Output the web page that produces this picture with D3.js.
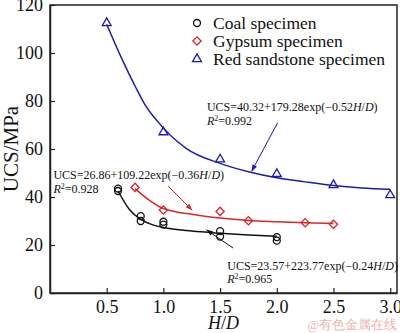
<!DOCTYPE html>
<html>
<head>
<meta charset="utf-8">
<script src="https://cdn.jsdelivr.net/npm/d3@7"></script>
<style>
  body { margin: 0; background: #fff; }
  svg text { font-family: "Liberation Serif", "Times New Roman", serif; }
</style>
</head>
<body>
<div class="chart"></div>
<script>
// measured points
const coalHD = [0.6, 0.6, 0.8, 0.8, 1.0, 1.0, 1.5, 1.5, 2.0, 2.0];
const coalUCS = [43.5, 42.5, 32, 30, 29.7, 28.5, 25.8, 23.5, 23.3, 21.8];
const gypHD = [0.75, 1.0, 1.5, 1.75, 2.25, 2.5];
const gypUCS = [44, 34.6, 34, 30.1, 29.3, 28.6];
const sandHD = [0.5, 1.0, 1.5, 2.0, 2.5, 3.0];
const sandUCS = [112.5, 67, 55.7, 49.6, 45, 40.8];

// fitted curves
const coalFitHD = [0.6, 0.7, 0.8, 0.9, 1.0, 1.25, 1.5, 1.75, 2.0];
const coalFitUCS = [42.5, 34.8, 30.7, 28.5, 27.3, 25.8, 24.9, 24.2, 23.6];
const gypFitHD = [0.75, 0.88, 1.0, 1.25, 1.5, 1.75, 2.0, 2.25, 2.5];
const gypFitUCS = [43.5, 38.5, 35.2, 32.8, 31.2, 30.2, 29.7, 29.3, 29.0];
const sandFitHD = [0.5, 0.62, 0.76, 0.84, 0.95, 1.2, 1.5, 1.75, 2.0, 2.25, 2.5, 2.75, 3.0];
const sandFitUCS = [112, 99, 85.3, 78.3, 71.4, 60.3, 54, 50.5, 48, 46.3, 44.8, 43.8, 43.2];

const xTicks = [0.5, 1.0, 1.5, 2.0, 2.5, 3.0];
const yTicks = [0, 20, 40, 60, 80, 100, 120];
const legendNames = ["Coal specimen", "Gypsum specimen", "Red sandstone specimen"];

const black = "#111", red = "#d8262a", blue = "#1c1caa";

const width = 400, height = 333;
const svg = d3.select(".chart").append("svg")
	.attr("width", width)
	.attr("height", height);

const x = d3.scaleLinear().domain([0, 3.06]).range([50, 397]);
const y = d3.scaleLinear().domain([0, 120]).range([293, 5]);

// frame
svg.append("rect")
	.attr("x", x(0)).attr("y", y(120))
	.attr("width", x(3.06) - x(0)).attr("height", y(0) - y(120))
	.attr("fill", "none").attr("stroke", "#222").attr("stroke-width", 1.5);

const xAxis = svg.append("g")
	.attr("transform", "translate(0," + y(0) + ")")
	.call(d3.axisBottom(x).tickValues(xTicks).tickFormat(d3.format(".1f"))
		.tickSize(-5).tickSizeOuter(0).tickPadding(7));
const yAxis = svg.append("g")
	.attr("transform", "translate(" + x(0) + ",0)")
	.call(d3.axisLeft(y).tickValues(yTicks).tickSize(-5).tickSizeOuter(0).tickPadding(7));

[xAxis, yAxis].forEach(function(g) {
	g.select(".domain").attr("stroke", "#222").attr("stroke-width", 1.5);
	g.selectAll(".tick line").attr("stroke", "#222").attr("stroke-width", 1.2);
	g.selectAll(".tick text")
		.attr("font-family", "Liberation Serif")
		.attr("font-size", 18)
		.attr("fill", "#111");
});

// axis titles
svg.append("text")
	.attr("transform", "translate(18," + y(60) + ") rotate(-90)")
	.attr("text-anchor", "middle")
	.attr("font-size", 21)
	.attr("fill", "#111")
	.text("UCS/MPa");

const xt = svg.append("text")
	.attr("x", x(1.53)).attr("y", 329)
	.attr("text-anchor", "middle")
	.attr("font-size", 18)
	.attr("fill", "#111");
xt.append("tspan").attr("font-style", "italic").text("H");
xt.append("tspan").text("/");
xt.append("tspan").attr("font-style", "italic").text("D");

// fitted curves
const line = d3.line()
	.x(d => x(d[0]))
	.y(d => y(d[1]))
	.curve(d3.curveMonotoneX);

const curves = [
	{hd: sandFitHD, ucs: sandFitUCS, color: blue},
	{hd: gypFitHD, ucs: gypFitUCS, color: red},
	{hd: coalFitHD, ucs: coalFitUCS, color: black}
];
curves.forEach(function(c) {
	svg.append("path")
		.datum(d3.zip(c.hd, c.ucs))
		.attr("d", line)
		.attr("fill", "none")
		.attr("stroke", c.color)
		.attr("stroke-width", 1.5);
});

// markers
const symCircle = d3.symbol().type(d3.symbolCircle).size(38);
const symDiamond = d3.symbol().type(d3.symbolSquare).size(34);
const symTriangle = d3.symbol().type(d3.symbolTriangle).size(34);

function drawPoints(hd, ucs, sym, color, rot) {
	svg.append("g").selectAll("path")
		.data(d3.zip(hd, ucs))
		.enter()
		.append("path")
		.attr("d", sym)
		.attr("transform", d => "translate(" + x(d[0]) + "," + y(d[1]) + ") rotate(" + rot + ")")
		.attr("fill", "none")
		.attr("stroke", color)
		.attr("stroke-width", 1.3);
}
drawPoints(coalHD, coalUCS, symCircle, black, 0);
drawPoints(gypHD, gypUCS, symDiamond, red, 45);
drawPoints(sandHD, sandUCS, symTriangle, blue, 0);

// legend
const legendSyms = [
	{sym: symCircle, color: black, rot: 0},
	{sym: symDiamond, color: red, rot: 45},
	{sym: symTriangle, color: blue, rot: 0}
];
const legend = svg.append("g").selectAll("g")
	.data(legendNames)
	.enter()
	.append("g")
	.attr("transform", (d, i) => "translate(197," + (23 + i * 18) + ")");
legend.append("path")
	.attr("d", (d, i) => legendSyms[i].sym())
	.attr("transform", (d, i) => "rotate(" + legendSyms[i].rot + ")")
	.attr("fill", "none")
	.attr("stroke", (d, i) => legendSyms[i].color)
	.attr("stroke-width", 1.3);
legend.append("text")
	.attr("x", 16).attr("y", 6)
	.attr("font-size", 17.5)
	.attr("fill", "#111")
	.text(d => d);

// arrow heads
const defs = svg.append("defs");
[["arBlack", black], ["arRed", red], ["arBlue", blue]].forEach(function(m) {
	defs.append("marker")
		.attr("id", m[0])
		.attr("viewBox", "0 0 10 10")
		.attr("refX", 9).attr("refY", 5)
		.attr("markerWidth", 8).attr("markerHeight", 7)
		.attr("markerUnits", "userSpaceOnUse")
		.attr("orient", "auto")
		.append("path")
		.attr("d", "M0,1.5L10,5L0,8.5Z")
		.attr("fill", m[1]);
});

// annotations
const notes = [
	{tx: 1.384, ey: 75.8, ry: 70, from: [2.008, 71], to: [1.779, 50.8], color: blue, marker: "arBlue",
		a: "40.32", b: "179.28", c: "0.52", r2: "0.992"},
	{tx: 0.03, ey: 47.5, ry: 41.5, from: [1.04, 44.6], to: [1.252, 34.6], color: red, marker: "arRed",
		a: "26.86", b: "109.22", c: "0.36", r2: "0.928"},
	{tx: 1.563, ey: 9.6, ry: 4, from: [1.614, 18.75], to: [1.382, 26.25], color: black, marker: "arBlack",
		a: "23.57", b: "223.77", c: "0.24", r2: "0.965"}
];
notes.forEach(function(n) {
	svg.append("line")
		.attr("x1", x(n.from[0])).attr("y1", y(n.from[1]))
		.attr("x2", x(n.to[0])).attr("y2", y(n.to[1]))
		.attr("stroke", n.color).attr("stroke-width", 1)
		.attr("marker-end", "url(#" + n.marker + ")");
	const eq = svg.append("text")
		.attr("x", x(n.tx)).attr("y", y(n.ey))
		.attr("font-size", 12).attr("fill", "#111");
	eq.append("tspan").text("UCS=" + n.a + "+" + n.b + "exp(\u2212" + n.c);
	eq.append("tspan").attr("font-style", "italic").text("H");
	eq.append("tspan").text("/");
	eq.append("tspan").attr("font-style", "italic").text("D");
	eq.append("tspan").text(")");
	const r = svg.append("text")
		.attr("x", x(n.tx)).attr("y", y(n.ry))
		.attr("font-size", 12).attr("fill", "#111");
	r.append("tspan").attr("font-style", "italic").text("R");
	r.append("tspan").attr("font-size", 8).attr("dy", -4.5).text("2");
	r.append("tspan").attr("dy", 4.5).text("=" + n.r2);
});

// watermark
svg.append("text")
	.attr("x", 397).attr("y", 329)
	.attr("text-anchor", "end")
	.attr("font-family", "Noto Sans CJK SC")
	.attr("font-size", 12.5)
	.attr("fill", "#f0b4b4")
	.text("@有色金属在线");
</script>
</body>
</html>
